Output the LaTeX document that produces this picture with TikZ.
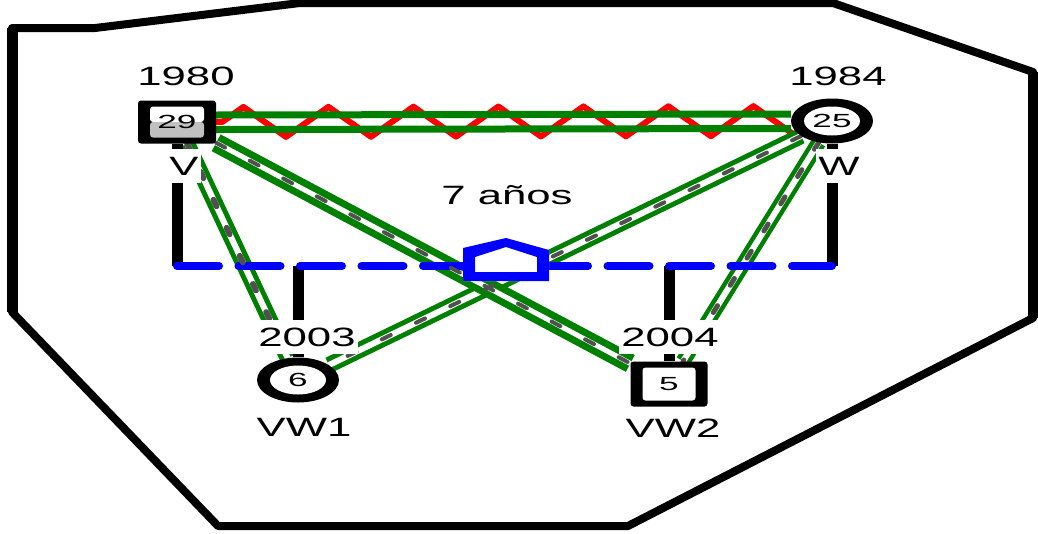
\documentclass[tikz,border=0pt]{standalone}
\usepackage{fontspec}
\setmainfont{Liberation Sans}
\newfontfamily\lblfont[FakeStretch=1.65]{Liberation Sans}
\newfontfamily\numfont[FakeStretch=1.85]{Liberation Sans}
\usetikzlibrary{shapes.geometric,decorations.pathmorphing,backgrounds}
\definecolor{grn}{RGB}{0,128,0}
\definecolor{dgray}{RGB}{80,80,80}
\definecolor{lgray}{RGB}{192,192,192}

\begin{document}
\begin{tikzpicture}[
                            x=1pt, y=-1pt,
                            male/.style={rectangle, fill=black, rounded corners=3pt, inner sep=0pt, minimum width=78pt, minimum height=43pt, font=\numfont\fontsize{19}{19}\selectfont,
                                path picture={\fill[white] ([shift={(12pt,-6pt)}]path picture bounding box.north west) rectangle ([shift={(-12pt,6pt)}]path picture bounding box.south east);}},
                            halfgray/.style={path picture={
                                \fill[white] ([shift={(12pt,-6pt)}]path picture bounding box.north west) rectangle ([shift={(-12pt,0pt)}]path picture bounding box.east);
                                \fill[lgray] ([shift={(12pt,0pt)}]path picture bounding box.west) rectangle ([shift={(-12pt,6pt)}]path picture bounding box.south east);}},
                            female/.style={ellipse, fill=black, inner sep=0pt, minimum width=82pt, minimum height=45pt, font=\numfont\fontsize{19}{19}\selectfont,
                                path picture={\fill[white] (path picture bounding box.center) ellipse [x radius=28pt, y radius=14.5pt];}},
                            lbl/.style={fill=white, inner xsep=2pt, inner ysep=8pt, font=\lblfont\fontsize{26.5}{28}\selectfont},
                            tie/.style={draw=grn, line width=5pt, double=white, double distance=6pt},
                            tiedash/.style={draw=dgray, line width=4pt, line cap=round, dash pattern=on 8pt off 24pt},
                            bar/.style={draw, line width=11pt},
                            mline/.style={draw=blue, line width=8pt, line cap=round, dash pattern=on 42pt off 19.5pt}
                        ]
                        \useasboundingbox (0,0) rectangle (1038,533);
                        % Persons
                        \node [male, halfgray] (V) at (177,122) {29};
                        \node [female] (W) at (832,121) {25};
                        \node [female] (VW1) at (298,380) {6};
                        \node [male, minimum width=77pt, minimum height=45pt] (VW2) at (669,384) {5};
                        \coordinate (line) at (0,266);

                        % Connections
                        \begin{scope}[on background layer]
                        \draw [line width=8pt, line join=round] (12,28) -- (95,28) -- (300,3) -- (833,3) -- (1033,72) -- (1033,318) -- (628,526) -- (218,526) -- (12,312) -- cycle;
                        \draw [line width=11pt] (12,28) -- (12,312);
                        \draw [line width=11pt] (1033,72) -- (1033,318);
                        \draw [red, line width=6pt, line join=round, decorate, decoration={zigzag, segment length=85pt, amplitude=15pt, pre=lineto, pre length=6pt}] (V.east) -- (W.center);
                        \draw [grn, line width=7pt] ([yshift=7pt]V.east) -- ([yshift=7pt]W.west);
                        \draw [grn, line width=7pt] ([yshift=-7.5pt]V.east) -- ([yshift=-7.5pt]W.west);
                        \draw [tie] (V) -- (VW1);
                        \draw [tie] (W) -- (VW1);
                        \draw [tie, line width=7pt, double distance=5pt] (V) -- (VW2);
                        \draw [tie, line width=4.5pt] (W) -- (VW2);
                        \draw [bar] (V) -- (V |- line);
                        \draw [bar] (W) -- (W |- line);
                        \draw [bar] (VW1 |- line) -- (VW1);
                        \draw [bar] (VW2 |- line) -- (VW2);
                        \draw [mline] (V |- line) -- (W |- line);
                        \draw [tiedash, line width=6pt, dash pattern=on 7pt off 24pt] (V) -- (VW1);
                        \draw [tiedash, dash pattern=on 10pt off 28pt] (W) -- (VW1);
                        \draw [tiedash, dash pattern=on 10pt off 28pt] (V) -- (VW2);
                        \draw [tiedash, line width=5pt] (W) -- (VW2);
                        \end{scope}

                        % Labels
                        \fill [white] (463,248) -- (506,238) -- (549,250) -- (549,281) -- (463,281) -- cycle;
                        \fill [blue, even odd rule] (463,248) -- (506,238) -- (549,250) -- (549,281) -- (463,281) -- cycle
                            (475,257) -- (506,247) -- (537,257) -- (537,272) -- (475,272) -- cycle;
                        \node [lbl] (yV) at (186,76) {1980};
                        \node [lbl] (yW) at (838,76) {1984};
                        \node [lbl] (nV) at (184,166) {V};
                        \node [lbl] (nW) at (839,166) {W};
                        \node [lbl] (y1) at (307,337) {2003};
                        \node [lbl] (y2) at (670,337) {2004};
                        \node [lbl] (n1) at (304,427) {VW1};
                        \node [lbl] (n2) at (673,428) {VW2};
                        \node [lbl] (gap) at (507,195) {7 años};
                    \end{tikzpicture}
\end{document}
